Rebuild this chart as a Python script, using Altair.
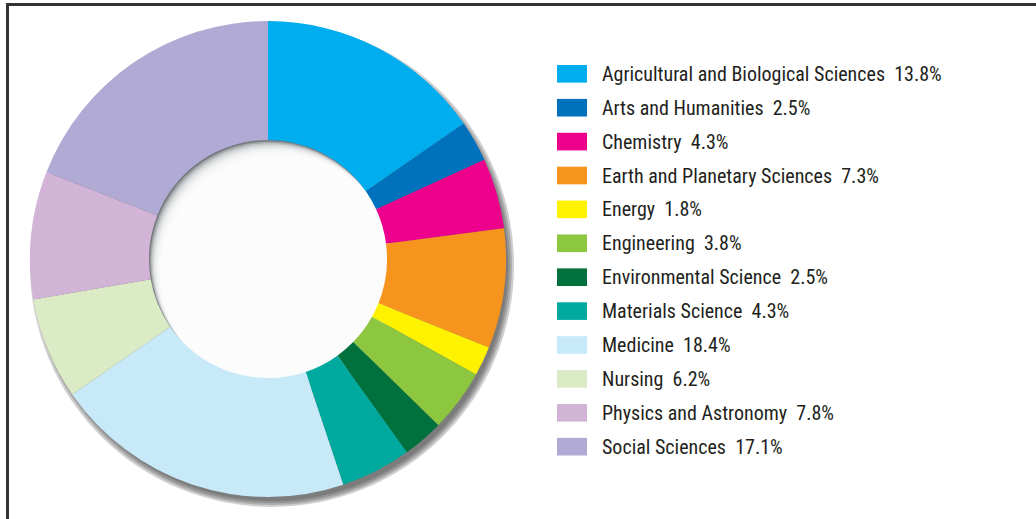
import altair as alt
import pandas as pd

names = [
    "Agricultural and Biological Sciences",
    "Arts and Humanities",
    "Chemistry",
    "Earth and Planetary Sciences",
    "Energy",
    "Engineering",
    "Environmental Science",
    "Materials Science",
    "Medicine",
    "Nursing",
    "Physics and Astronomy",
    "Social Sciences",
]
values = [13.8, 2.5, 4.3, 7.3, 1.8, 3.8, 2.5, 4.3, 18.4, 6.2, 7.8, 17.1]
colors = [
    "#00aeef", "#0071bc", "#ec008c", "#f7941d", "#fff200", "#8dc63f",
    "#00703c", "#00a99d", "#c7e9f8", "#dbebc5", "#d2b4d7", "#b0aad4",
]

df = pd.DataFrame({"name": names, "value": values, "idx": list(range(len(names)))})
df["label"] = [f"{n}\u00a0\u00a0{v}%" for n, v in zip(names, values)]

one = pd.DataFrame({"k": [0]})

CX, CY = 268, 259
R_OUT, R_IN = 238, 119
TAU = 6.2832

# drop shadow behind the ring (stacked soft disks)
shadow_layers = []
for r in [R_OUT - 2, R_OUT, R_OUT + 2, R_OUT + 4]:
    shadow_layers.append(
        alt.Chart(one).mark_arc(theta=0, theta2=TAU, radius=r, color="#3a3a3a", opacity=0.24)
        .encode(x=alt.value(CX + 4), y=alt.value(CY + 6))
    )

# inner shadow of the hole
hole = alt.Chart(one).mark_arc(theta=0, theta2=TAU, radius=R_IN, color="#767c80").encode(
    x=alt.value(CX), y=alt.value(CY)
)
hole_layers = [hole]
for k in range(1, 11):
    hole_layers.append(
        alt.Chart(one).mark_arc(theta=0, theta2=TAU, radius=R_IN, color="#ffffff", opacity=0.33)
        .encode(x=alt.value(CX + 1.2 * k), y=alt.value(CY + 1.5 * k))
    )

color_scale = alt.Scale(domain=names, range=colors)

ring = alt.Chart(df).mark_arc(innerRadius=R_IN, outerRadius=R_OUT).encode(
    theta=alt.Theta("value:Q", stack=True),
    order=alt.Order("idx:Q"),
    color=alt.Color("name:N", scale=color_scale, legend=None),
    x=alt.value(CX),
    y=alt.value(CY),
)

y_scale = alt.Scale(domain=names, range=[65, 455.5], paddingInner=0.48, paddingOuter=0)

swatches = alt.Chart(df).mark_rect().encode(
    x=alt.value(557),
    x2=alt.value(587),
    y=alt.Y("name:N", sort=names, scale=y_scale, axis=None),
    color=alt.Color("name:N", scale=color_scale, legend=None),
)

labels = alt.Chart(df).mark_text(
    align="left", baseline="middle", fontSize=20, fontWeight=400, color="#231f20",
    font="Roboto Condensed, Liberation Sans Narrow, DejaVu Sans Condensed, sans-serif", dy=1,
).encode(
    x=alt.value(602),
    y=alt.Y("name:N", sort=names, scale=y_scale, axis=None),
    text="label:N",
)

frame_top = alt.Chart(one).mark_rule(color="#333333", strokeWidth=3).encode(
    x=alt.value(6), x2=alt.value(1036), y=alt.value(4.5)
)
frame_left = alt.Chart(one).mark_rule(color="#333333", strokeWidth=3).encode(
    x=alt.value(7.5), y=alt.value(3), y2=alt.value(519)
)

chart = alt.layer(
    *shadow_layers, *hole_layers, ring, swatches, labels, frame_top, frame_left
).properties(
    width=1036, height=519, autosize=alt.AutoSizeParams(type="none"), padding=0,
    background="#ffffff",
).configure_view(stroke=None)

chart.save("out.html", embed_options={"renderer": "svg", "actions": False})
